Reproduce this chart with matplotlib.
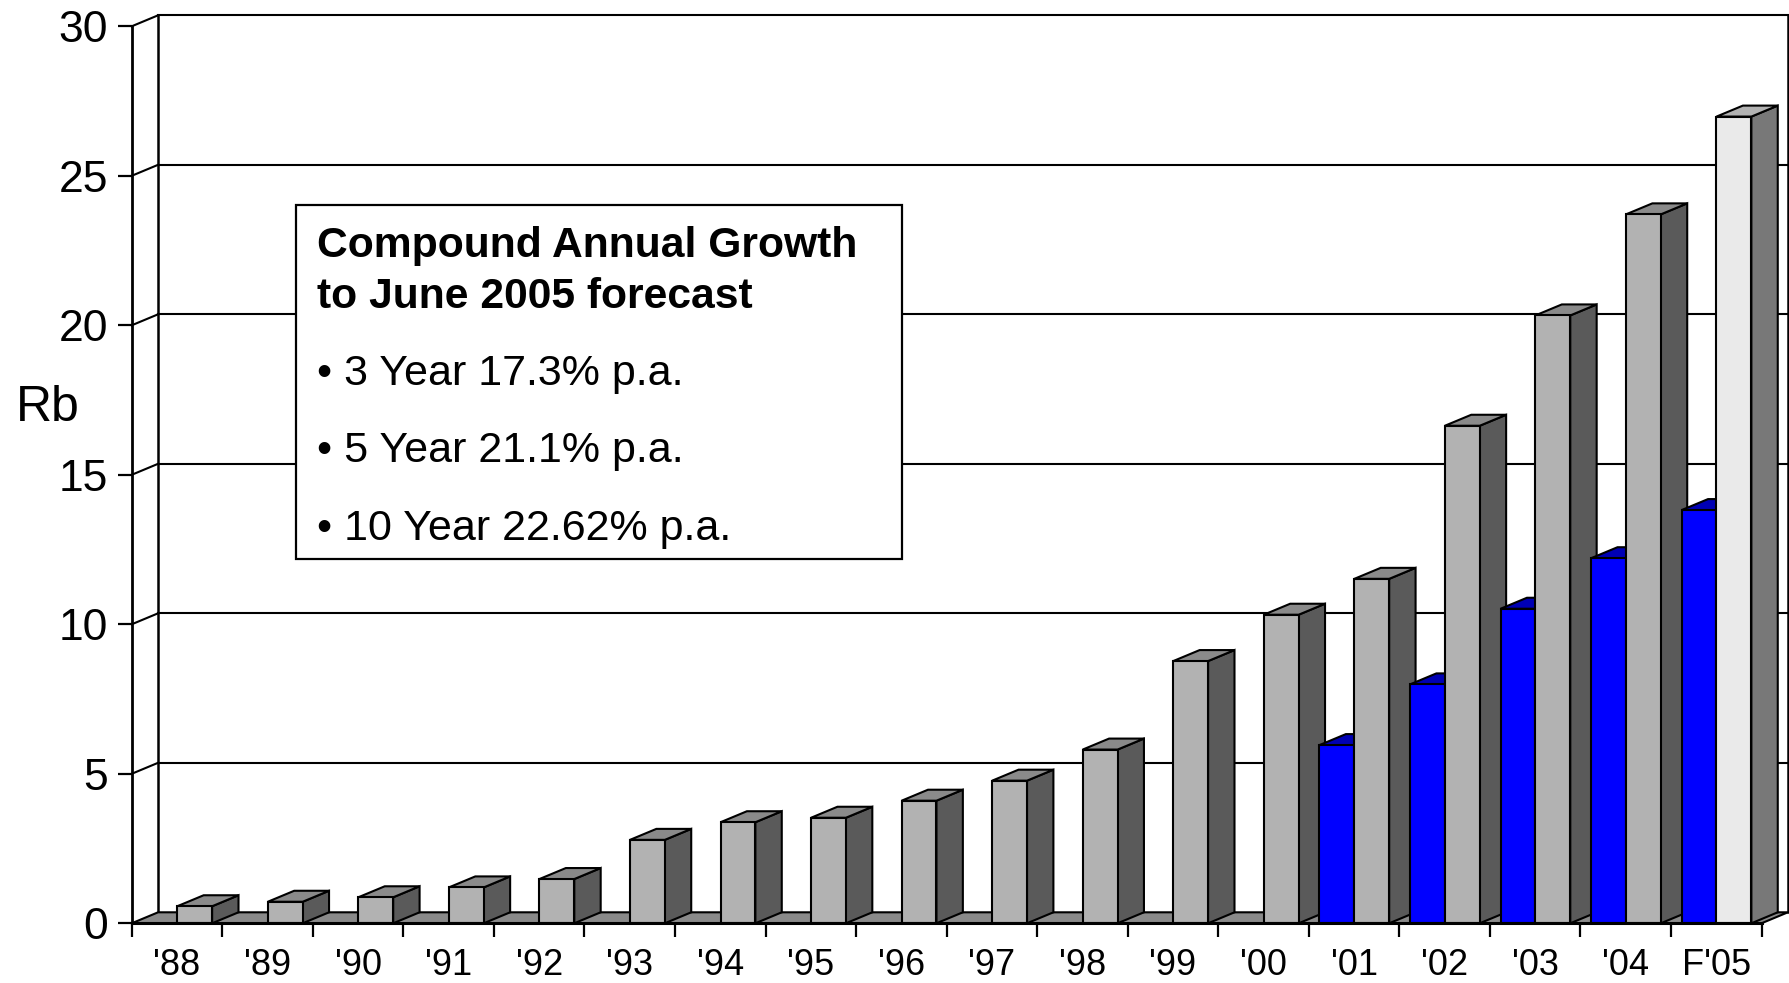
import matplotlib
matplotlib.use("Agg")
import matplotlib.pyplot as plt
from matplotlib.patches import Polygon, Rectangle

plt.rcParams["font.family"] = ["Liberation Sans", "DejaVu Sans"]

# --- data -------------------------------------------------------------
years = ["'88", "'89", "'90", "'91", "'92", "'93", "'94", "'95", "'96",
         "'97", "'98", "'99", "'00", "'01", "'02", "'03", "'04", "F'05"]
total_rb = [0.57, 0.72, 0.87, 1.20, 1.48, 2.79, 3.38, 3.53, 4.10,
            4.77, 5.81, 8.77, 10.32, 11.52, 16.64, 20.33, 23.71, 26.98]
blue_rb = [0, 0, 0, 0, 0, 0, 0, 0, 0,
           0, 0, 0, 0, 5.96, 7.99, 10.52, 12.21, 13.82]
yticks = [0, 5, 10, 15, 20, 25, 30]
note_head = ["Compound Annual Growth", "to June 2005 forecast"]
note_items = ["3 Year 17.3% p.a.", "5 Year 21.1% p.a.", "10 Year 22.62% p.a."]

# --- geometry ---------------------------------------------------------
W, H = 1790, 983
X0, X1 = 131.7, 1761.5          # front plane, pixels
Y0, Y30 = 923.3, 26.3
DPX, DPY = 26.4, 11.0           # depth offset, pixels
ncat = len(years)
ymax = yticks[-1]
DX = DPX / ((X1 - X0) / ncat)   # depth in category units
DY = DPY / ((Y0 - Y30) / ymax)  # depth in value units
GAP, BW = 0.118, 0.385

fig = plt.figure(figsize=(W / 100, H / 100), dpi=100)
ax = fig.add_axes([X0 / W, 1 - Y0 / H, (X1 + DPX - X0) / W, (Y0 - Y30 + DPY) / H])
ax.set_xlim(0, ncat + DX)
ax.set_ylim(0, ymax + DY)
ax.set_facecolor("none")

EDGE = dict(edgecolor="black", linewidth=1.5, joinstyle="miter", clip_on=False)

# back wall, left wall connectors and gridlines
for v in yticks[1:]:
    ax.plot([DX, ncat + DX], [v + DY, v + DY], color="black", lw=1.5, zorder=1, clip_on=False)
    ax.plot([0, DX], [v, v + DY], color="black", lw=1.5, zorder=1, clip_on=False)
ax.plot([DX, DX], [DY, ymax + DY], color="black", lw=1.8, zorder=1, clip_on=False)
ax.plot([ncat + DX, ncat + DX], [DY, ymax + DY], color="black", lw=1.8, zorder=1, clip_on=False)

# floor
ax.add_patch(Polygon([(0, 0), (ncat, 0), (ncat + DX, DY), (DX, DY)],
                     facecolor="#8a8a8a", zorder=2, **EDGE))


def bar3d(left, h, front, side, top, z):
    r = left + BW
    ax.add_patch(Polygon([(r, 0), (r + DX, DY), (r + DX, h + DY), (r, h)],
                         facecolor=side, zorder=z, **EDGE))
    ax.add_patch(Polygon([(left, h), (r, h), (r + DX, h + DY), (left + DX, h + DY)],
                         facecolor=top, zorder=z, **EDGE))
    ax.add_patch(Rectangle((left, 0), BW, h, facecolor=front, zorder=z, **EDGE))


for i, lab in enumerate(years):
    z = 3 + i * 0.01
    if blue_rb[i] > 0:
        bar3d(i + GAP, blue_rb[i], "#0000ff", "#00007a", "#0000b4", z)
    if lab.startswith("F"):
        bar3d(i + GAP + BW, total_rb[i], "#eaeaea", "#787878", "#b2b2b2", z + 0.005)
    else:
        bar3d(i + GAP + BW, total_rb[i], "#b2b2b2", "#5a5a5a", "#8a8a8a", z + 0.005)

# axes
for s in ("top", "right"):
    ax.spines[s].set_visible(False)
ax.spines["left"].set_bounds(0, ymax)
ax.spines["bottom"].set_bounds(0, ncat)
ax.spines["left"].set_linewidth(2)
ax.spines["bottom"].set_linewidth(2.2)
ax.spines["left"].set_zorder(6)
ax.spines["bottom"].set_zorder(6)

ax.set_yticks(yticks)
ax.set_yticklabels([str(v) for v in yticks])
ax.tick_params(axis="y", direction="out", length=10, width=1.6, pad=7, labelsize=32)

ax.set_xticks(range(ncat + 1))
ax.set_xticklabels([])
ax.set_xticks([i + 0.5 for i in range(ncat)], minor=True)
ax.set_xticklabels(years, minor=True)
ax.tick_params(axis="x", which="major", direction="out", length=10, width=1.6)
ax.tick_params(axis="x", which="minor", length=0, pad=18, labelsize=26)

ax.set_ylabel("Rb", rotation=0, fontsize=36, ha="center", va="center")
ax.yaxis.set_label_coords((48 - X0) / (X1 + DPX - X0), (Y0 - 407.6) / (Y0 - Y30 + DPY))

# growth note
bx0, by0, bx1, by1 = 295.7, 205.0, 901.9, 559.3
fig.patches.append(Rectangle((bx0 / W, 1 - by1 / H), (bx1 - bx0) / W, (by1 - by0) / H,
                             transform=fig.transFigure, facecolor="white",
                             edgecolor="black", linewidth=1.6, zorder=10))
tx = 316.7 / W
for txt, base in zip(note_head, [256.7, 308.3]):
    fig.text(tx, 1 - base / H, txt, fontsize=30.7, fontweight="bold",
             va="baseline", ha="left", zorder=11)
for txt, base in zip(note_items, [385.0, 461.7, 540.0]):
    fig.text(tx, 1 - base / H, "\u2022 " + txt, fontsize=31,
             va="baseline", ha="left", zorder=11)

fig.savefig("out.png", dpi=100, facecolor="white")
